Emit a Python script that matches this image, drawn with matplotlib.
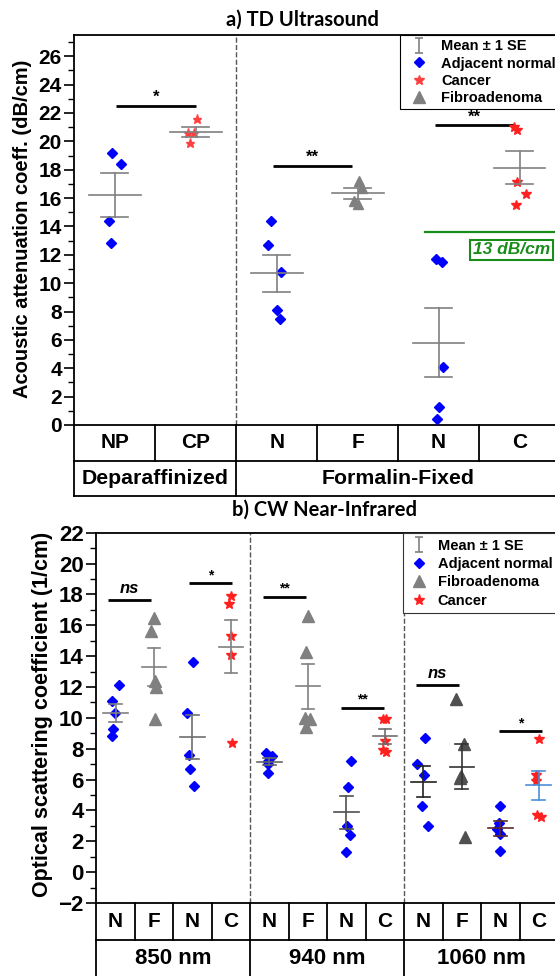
import numpy as np
import matplotlib
matplotlib.use('Agg')
import matplotlib.pyplot as plt
from matplotlib.lines import Line2D

plt.rcParams['font.family'] = ['Liberation Sans', 'DejaVu Sans']
plt.rcParams['font.weight'] = 'bold'

# ---- data : a) TD ultrasound (dB/cm) ----
top_cats = ['NP', 'CP', 'N', 'F', 'N', 'C']
top_groups = ['Deparaffinized', 'Formalin-Fixed']
us_np = [19.2, 18.4, 14.4, 12.8]
us_cp = [21.6, 20.6, 20.6, 19.9]
us_fn = [14.4, 12.7, 10.8, 8.1, 7.5]
us_ff = [17.2, 16.7, 15.8, 15.6]
us_fn2 = [11.7, 11.5, 4.1, 1.3, 0.4]
us_fc = [21.0, 20.8, 17.1, 16.3, 15.5]
us_threshold = 13.6

# ---- data : b) CW near-infrared (1/cm) ----
bot_cats = ['N', 'F', 'N', 'C'] * 3
bot_groups = ['850 nm', '940 nm', '1060 nm']
nir_850_n = [12.1, 11.1, 10.3, 9.3, 8.8]
nir_850_f = [16.5, 15.6, 12.4, 12.0, 9.9]
nir_850_n2 = [13.6, 10.3, 7.6, 6.7, 5.6]
nir_850_c = [17.9, 17.4, 15.3, 14.1, 8.4]
nir_940_n = [7.7, 7.5, 7.2, 7.0, 6.4]
nir_940_f = [16.6, 14.3, 10.0, 9.9, 9.4]
nir_940_n2 = [7.2, 5.5, 3.0, 2.4, 1.3]
nir_940_c = [9.9, 9.9, 8.5, 7.9, 7.8]
nir_1060_n = [8.7, 7.0, 6.3, 4.3, 3.0]
nir_1060_f = [11.2, 8.3, 6.2, 6.1, 2.3]
nir_1060_n2 = [4.3, 3.2, 2.8, 2.5, 1.4]
nir_1060_c = [8.6, 6.3, 5.9, 3.7, 3.6]

# horizontal scatter of the points inside a column (column units)
top_jit = [[-0.03, 0.08, -0.07, -0.05], [0.01, -0.1, -0.02, -0.07],
           [-0.07, -0.11, 0.05, 0.01, 0.04], [0.02, 0.06, -0.05, 0.0],
           [-0.03, 0.04, 0.05, 0.01, -0.02], [-0.07, -0.03, -0.03, 0.08, -0.04]]
bot_jit = [[0.09, -0.1, -0.02, -0.06, -0.09], [-0.01, -0.09, 0.02, 0.04, 0.02],
           [0.02, -0.15, -0.1, -0.07, 0.04], [0.0, -0.05, 0.0, 0.0, 0.03],
           [-0.1, 0.07, -0.03, -0.05, -0.03], [-0.01, -0.04, -0.08, 0.05, -0.04],
           [0.11, 0.04, 0.02, 0.09, -0.02], [-0.05, 0.04, 0.0, -0.06, 0.04],
           [0.04, -0.16, 0.01, -0.03, 0.11], [-0.14, 0.06, -0.01, -0.05, 0.08],
           [-0.02, -0.04, -0.08, 0.0, 0.0], [0.0, -0.06, -0.06, -0.04, 0.07]]

BLUE = '#0000ff'
RED = '#ff2020'
GRAY = '#808080'

sty = {'N': ('D', BLUE, 5), 'NP': ('D', BLUE, 5), 'CP': ('*', '#ff4040', 7),
       'C': ('*', RED, 7.5), 'F': ('^', GRAY, 8)}

W, H = 555, 976
def box(x0, y0, x1, y1):
    return [x0 / W, 1 - y1 / H, (x1 - x0) / W, (y1 - y0) / H]

fig = plt.figure(figsize=(5.55, 9.76), dpi=100)
ax1 = fig.add_axes(box(74.3, 35, 560, 425))
tab1 = fig.add_axes(box(74.3, 425, 560, 496))
ax2 = fig.add_axes(box(96.3, 532.7, 558, 903))
tab2 = fig.add_axes(box(96.3, 903, 558, 977))


def draw_group(ax, i, vals, jit, key, ecol, msc=1.0, mcol=None):
    marker, color, ms = sty[key]
    if mcol is not None:
        color = mcol
    x = i + 0.5
    ax.plot(x + np.array(jit), vals, ls='none', marker=marker, color=color,
            mec=color, ms=ms * msc, zorder=3)
    m = np.mean(vals)
    se = np.std(vals, ddof=1) / np.sqrt(len(vals))
    ax.plot([x - 0.32, x + 0.32], [m, m], color=ecol, lw=1.2, zorder=4)
    ax.plot([x, x], [m - se, m + se], color=ecol, lw=1.2, zorder=4)
    for yy in (m - se, m + se):
        ax.plot([x - 0.165, x + 0.165], [yy, yy], color=ecol, lw=1.2, zorder=4)


def sig(ax, x0, x1, y, txt, fs, dy):
    ax.plot([x0, x1], [y, y], color='black', lw=2, solid_capstyle='butt')
    style = 'italic' if txt == 'ns' else 'normal'
    ax.text((x0 + x1) / 2, y + dy, txt, ha='center', va='baseline', fontsize=fs,
            fontweight='bold', fontstyle=style)


def style_axis(ax, lo, hi, fs):
    ax.set_ylim(lo, hi)
    ax.set_yticks(np.arange(lo if lo % 2 == 0 else lo + 1, hi + 0.1, 2))
    ax.set_yticks(np.arange(lo, hi + 0.1, 1), minor=True)
    ax.set_xticks([])
    ax.tick_params(axis='y', which='major', direction='out', length=7, width=1.2,
                   labelsize=fs, pad=2)
    ax.tick_params(axis='y', which='minor', direction='out', length=4, width=1.0)
    for s in ax.spines.values():
        s.set_linewidth(1.3)
    for lab in ax.get_yticklabels():
        lab.set_fontweight('bold')


# ---------------- a) TD Ultrasound ----------------
top_vals = [us_np, us_cp, us_fn, us_ff, us_fn2, us_fc]
for i, v in enumerate(top_vals):
    draw_group(ax1, i, v, top_jit[i], top_cats[i], GRAY, msc=0.95)
ax1.set_xlim(0, 6)
style_axis(ax1, 0, 27.5, 15)
ax1.set_yticks(np.arange(0, 27, 2))
ax1.axvline(2, color='#555555', ls='--', lw=1)
ax1.plot([4.33, 6.2], [us_threshold, us_threshold], color='#1a8c1a', lw=1.6)
ax1.text(5.4, 12.35, '13 dB/cm', ha='center', va='center', color='#1a8c1a',
         fontsize=12.5, fontweight='bold', fontstyle='italic',
         bbox=dict(boxstyle='square,pad=0.15', fc='white', ec='#1a8c1a', lw=1.5))
sig(ax1, 0.52, 1.50, 22.47, '*', 12, 0.3)
sig(ax1, 2.45, 3.43, 18.23, '**', 12, 0.3)
sig(ax1, 4.45, 5.43, 21.15, '**', 12, 0.25)

h_err = ax1.errorbar([-5], [5], yerr=[1], fmt='none', ecolor=GRAY, capsize=3,
                     elinewidth=1.2, capthick=1.2)
h1 = [h_err,
      Line2D([], [], ls='none', marker='D', color=BLUE, ms=5.5),
      Line2D([], [], ls='none', marker='*', color='#ff4040', ms=7),
      Line2D([], [], ls='none', marker='^', color=GRAY, ms=8)]
leg1 = ax1.legend(h1, ['Mean ± 1 SE', 'Adjacent normal', 'Cancer', 'Fibroadenoma'],
                  loc='upper right', bbox_to_anchor=(1, 1), borderaxespad=0,
                  fancybox=False, edgecolor='black', framealpha=1,
                  labelspacing=0.22, handlelength=2.0, handletextpad=0.5,
                  borderpad=0.3, prop={'weight': 'bold', 'size': 10.5})
leg1.get_frame().set_linewidth(0.8)

# table under a)
tab1.set_xlim(0, 6)
tab1.set_ylim(0, 2)
tab1.axis('off')
for yy in (0, 1):
    tab1.plot([0, 6], [yy, yy], color='black', lw=1.3, clip_on=False)
for xx in range(7):
    lo = 0 if xx in (0, 2, 6) else 1
    tab1.plot([xx, xx], [lo, 2], color='black', lw=1.3, clip_on=False)
for i, c in enumerate(top_cats):
    tab1.text(i + 0.5, 1.5, c, ha='center', va='center', fontsize=15,
              fontweight='bold')
tab1.text(1, 0.5, top_groups[0], ha='center', va='center', fontsize=15.3,
          fontweight='bold')
tab1.text(4, 0.5, top_groups[1], ha='center', va='center', fontsize=15.3,
          fontweight='bold')

fig.text(302 / W, 1 - 20 / H, 'a) TD Ultrasound', ha='center', va='center',
         fontsize=14.5, fontweight='bold', family=['Lato', 'DejaVu Sans'])
fig.text(23 / W, 1 - 229 / H, 'Acoustic attenuation coeff. (dB/cm)', rotation=90,
         ha='center', va='center', fontsize=14.5, fontweight='bold')

# ---------------- b) CW Near-Infrared ----------------
bot_vals = [nir_850_n, nir_850_f, nir_850_n2, nir_850_c,
            nir_940_n, nir_940_f, nir_940_n2, nir_940_c,
            nir_1060_n, nir_1060_f, nir_1060_n2, nir_1060_c]
bot_ecol = [GRAY, GRAY, '#6e6e6e', GRAY,
            '#666666', GRAY, '#505050', '#6e6e6e',
            '#222222', '#333333', '#5a2a2a', '#4a90d9']
for i, v in enumerate(bot_vals):
    mcol = '#505050' if i == 9 else None
    draw_group(ax2, i, v, bot_jit[i], bot_cats[i], bot_ecol[i], mcol=mcol)
ax2.set_xlim(0, 12)
style_axis(ax2, -2, 22, 16)
ax2.axvline(4, color='#555555', ls='--', lw=1)
ax2.axvline(8, color='#555555', ls='--', lw=1)
sig(ax2, 0.31, 1.42, 17.63, 'ns', 12, 0.45)
sig(ax2, 2.41, 3.53, 18.71, '*', 10, 0.25)
sig(ax2, 4.34, 5.45, 17.85, '**', 10, 0.25)
sig(ax2, 6.35, 7.47, 10.67, '**', 10, 0.25)
sig(ax2, 8.30, 9.42, 12.12, 'ns', 12, 0.45)
sig(ax2, 10.46, 11.58, 9.15, '*', 10, 0.25)

h_err2 = ax2.errorbar([-5], [5], yerr=[1], fmt='none', ecolor=GRAY, capsize=3,
                      elinewidth=1.2, capthick=1.2)
h2 = [h_err2,
      Line2D([], [], ls='none', marker='D', color=BLUE, ms=5.5),
      Line2D([], [], ls='none', marker='^', color=GRAY, ms=8),
      Line2D([], [], ls='none', marker='*', color=RED, ms=8)]
leg2 = ax2.legend(h2, ['Mean ± 1 SE', 'Adjacent normal', 'Fibroadenoma', 'Cancer'],
                  loc='upper right', bbox_to_anchor=(1, 1), borderaxespad=0,
                  fancybox=False, edgecolor='#333333', framealpha=1,
                  labelspacing=0.3, handlelength=1.5, handletextpad=0.5,
                  prop={'weight': 'bold', 'size': 10.5})
leg2.get_frame().set_linewidth(0.8)

tab2.set_xlim(0, 12)
tab2.set_ylim(0, 2)
tab2.axis('off')
for yy in (0, 1):
    tab2.plot([0, 12], [yy, yy], color='black', lw=1.3, clip_on=False)
for xx in range(13):
    lo = 0 if xx in (0, 4, 8, 12) else 1
    tab2.plot([xx, xx], [lo, 2], color='black', lw=1.3, clip_on=False)
for i, c in enumerate(bot_cats):
    tab2.text(i + 0.5, 1.5, c, ha='center', va='center', fontsize=15,
              fontweight='bold')
for k, g in enumerate(bot_groups):
    tab2.text(4 * k + 2, 0.5, g, ha='center', va='center', fontsize=16,
              fontweight='bold')

fig.text(325 / W, 1 - 510 / H, 'b) CW Near-Infrared', ha='center', va='center',
         fontsize=14.5, fontweight='bold', family=['Lato', 'DejaVu Sans'])
fig.text(43 / W, 1 - 714 / H, 'Optical scattering coefficient (1/cm)', rotation=90,
         ha='center', va='center', fontsize=15.5, fontweight='bold')

fig.savefig('out.png', dpi=100)
